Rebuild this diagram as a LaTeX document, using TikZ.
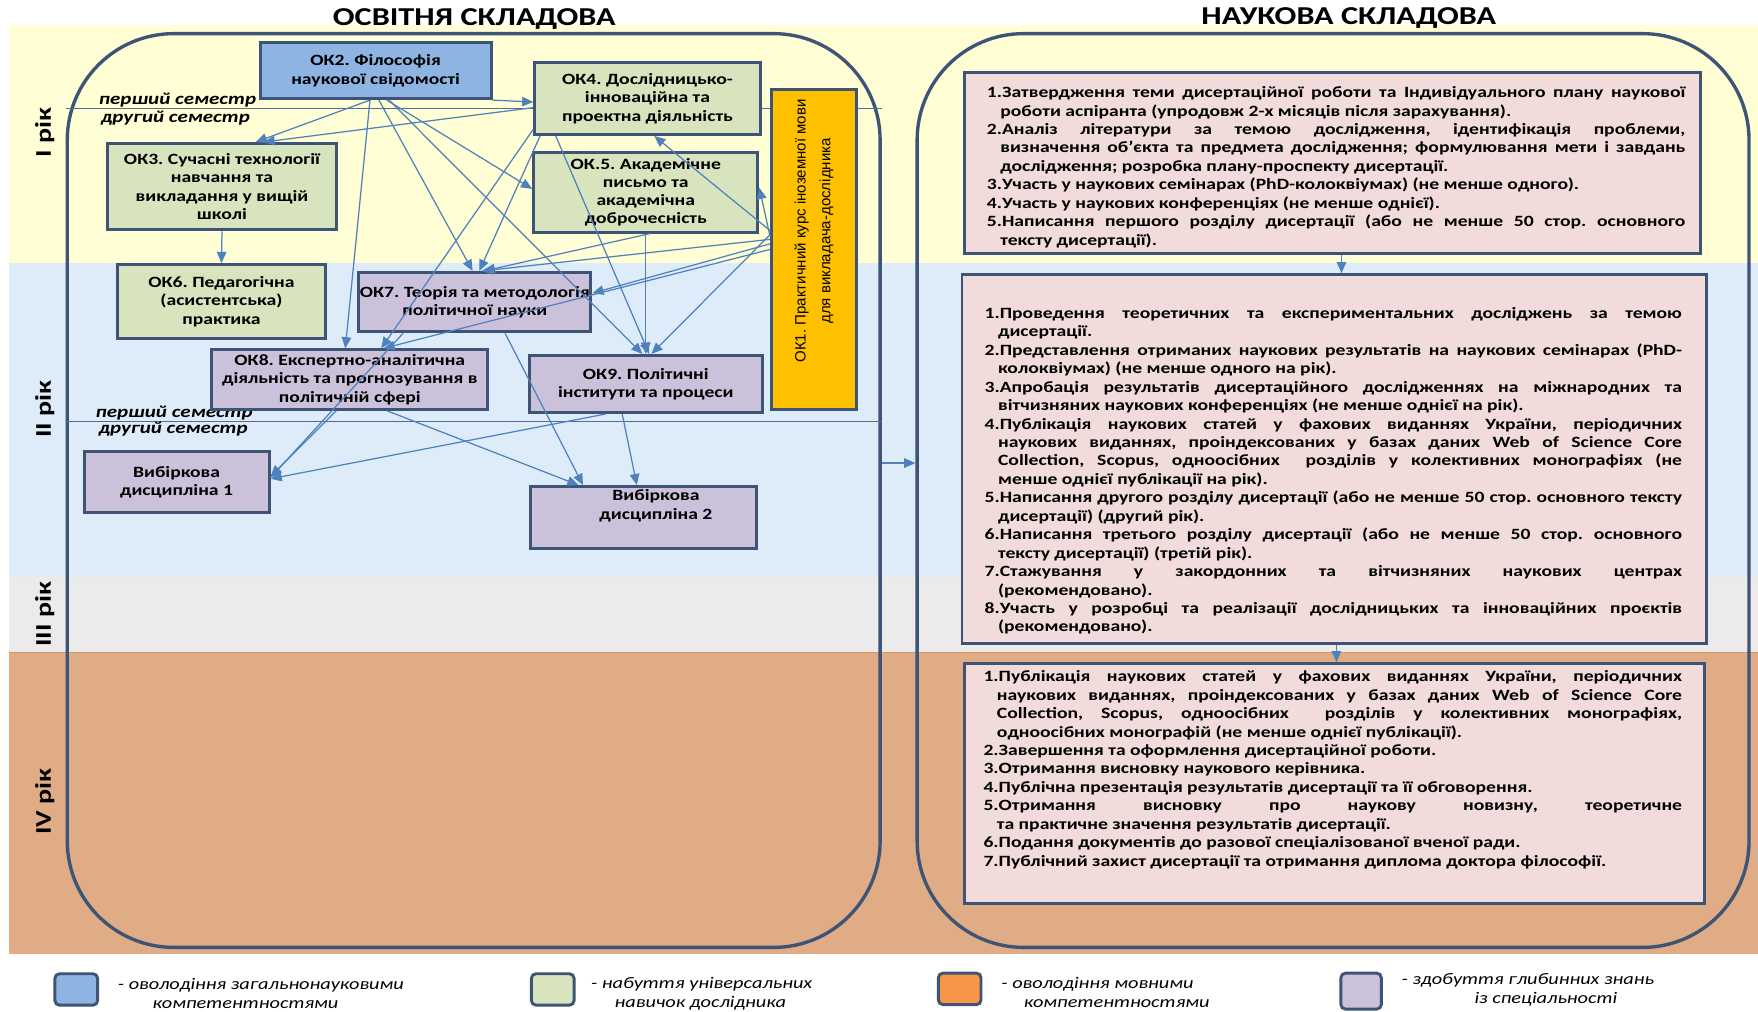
\documentclass[tikz,border=0pt]{standalone}
\usepackage{fontspec}
\setmainfont{Carlito}[FakeStretch=1.25]
\newfontfamily\arialf{Liberation Sans}
\usetikzlibrary{arrows.meta,calc}
\frenchspacing
\definecolor{bYel}{RGB}{255,254,212}
\definecolor{bBlu}{RGB}{222,236,250}
\definecolor{bGry}{RGB}{235,235,235}
\definecolor{bOrg}{RGB}{223,172,133}
\definecolor{bOrgE}{RGB}{212,150,105}
\definecolor{cBor}{RGB}{62,84,118}
\definecolor{cArr}{RGB}{79,129,189}
\definecolor{cSem}{RGB}{80,110,150}
\definecolor{fBlue}{RGB}{141,180,226}
\definecolor{fGreen}{RGB}{215,228,189}
\definecolor{fPurp}{RGB}{204,193,218}
\definecolor{fGold}{RGB}{255,192,0}
\definecolor{fPink}{RGB}{242,220,219}
\definecolor{fLOrg}{RGB}{247,150,70}
\newcommand\itm[1]{\hangindent=12pt\hangafter=1\relax #1\par}
\newcommand\rsetup{\parindent=0pt\tolerance=10000\hyphenpenalty=10000\emergencystretch=20pt\hbadness=10000\frenchspacing}
\begin{document}
\begin{tikzpicture}[x=1pt,y=-1pt,
 okbox/.style={draw=cBor, line width=2.6pt, align=center, font=\fontsize{14}{16.3}\selectfont\bfseries, inner sep=0pt},
 txt/.style={align=center, font=\fontsize{14}{16.3}\selectfont\bfseries, inner sep=0pt},
 rbox/.style={draw=cBor, line width=2.6pt, fill=fPink},
 rtxt/.style={text width=623pt, align=justify, inner sep=0pt, anchor=north west, font=\fontsize{14}{16.45}\selectfont\bfseries},
 panel/.style={draw=cBor, line width=3pt, rounded corners=95pt},
 arr/.style={draw=cArr, line width=1.1pt, -{Triangle[length=10pt,width=8.5pt]}},
 sem/.style={draw=cSem, line width=0.8pt},
 semlbl/.style={font=\fontsize{15}{16}\selectfont\bfseries\itshape, anchor=west, inner sep=0pt},
 yr/.style={font=\fontsize{20}{24}\selectfont\bfseries, rotate=90, inner sep=0pt},
 ttl/.style={font=\fontsize{23}{26}\selectfont\bfseries, inner sep=0pt},
 lgsq/.style={draw=cBor, line width=2.6pt, rounded corners=4pt, minimum width=38pt, minimum height=28pt},
 lgtxt/.style={font=\fontsize{14.5}{17}\selectfont\itshape, align=left, anchor=west, inner sep=0pt}
]
\useasboundingbox (0,0) rectangle (1568,902);
\fill[white] (0,0) rectangle (1568,902);
% bands
\fill[bYel] (8,22) rectangle (1568,235);
\fill[bBlu] (8,235) rectangle (1568,515);
\fill[bGry] (8,515) rectangle (1568,582);
\fill[bOrg] (8,582) rectangle (1568,851);
\draw[bOrgE, line width=1.2pt] (8,582) -- (1568,582);
% titles
\node[ttl] (t1) at (423,17) {ОСВІТНЯ СКЛАДОВА};
\node[ttl] (t2) at (1203,16) {НАУКОВА СКЛАДОВА};
% panels
\node[panel, minimum width=725pt, minimum height=815pt] (lp) at (422.5,437.5) {};
\node[panel, minimum width=742pt, minimum height=815pt] (rp) at (1189,437.5) {};
% semester lines
\draw[sem] (lp.west |- 0,97) -- (lp.east |- 0,97);
\draw[sem] (lp.west |- 0,376) -- (lp.east |- 0,376);
\node[semlbl] (s1) at (88,89) {перший семестр};
\node[semlbl] (s2) at (90,105) {другий семестр};
\node[semlbl] (s3) at (85,368) {перший семестр};
\node[semlbl] (s4) at (88,383) {другий семестр};
% year labels
\node[yr] (y1) at (40,118) {I рік};
\node[yr] (y2) at (40,365) {II рік};
\node[yr] (y3) at (40,548) {III рік};
\node[yr] (y4) at (40,715) {IV рік};
% left boxes
\node[okbox, fill=fBlue, minimum width=206pt, minimum height=50pt] (ok2) at (335,63) {ОК2. Філософія\\наукової свідомості};
\node[okbox, fill=fGreen, minimum width=201pt, minimum height=64pt] (ok4) at (577.5,88) {ОК4. Дослідницько-\\інноваційна та\\проектна діяльність};
\node[okbox, fill=fGreen, minimum width=204pt, minimum height=77pt] (ok3) at (198,166.5) {ОК3. Сучасні технології\\навчання та\\викладання у вищій\\школі};
\node[okbox, fill=fGreen, minimum width=200pt, minimum height=71pt] (ok5) at (576,171.5) {ОК.5. Академічне\\письмо та\\академічна\\доброчесність};
\node[okbox, fill=fGold, minimum width=76pt, minimum height=285pt] (ok1) at (726,222.5) {};
\node[rotate=90, font=\arialf\fontsize{13.4}{22}\selectfont, align=center, inner sep=0pt] (ok1t) at (726,206) {ОК1. Практичний курс іноземної мови\\для викладача-дослідника};
\node[okbox, fill=fGreen, minimum width=185pt, minimum height=66pt] (ok6) at (197.5,269) {ОК6. Педагогічна\\(асистентська)\\практика};
\node[okbox, fill=fPurp, minimum width=207pt, minimum height=53pt] (ok7) at (423.5,269.5) {ОК7. Теорія та методологія\\політичної науки};
\node[okbox, fill=fPurp, minimum width=246pt, minimum height=53pt] (ok8) at (312,338.5) {ОК8. Експертно-аналітична\\діяльність та прогнозування в\\політичній сфері};
\node[okbox, fill=fPurp, minimum width=208pt, minimum height=51pt] (ok9) at (576,342.5) {ОК9. Політичні\\інститути та процеси};
\node[okbox, fill=fPurp, minimum width=165pt, minimum height=54pt] (vib1) at (157.5,430) {Вибіркова\\дисципліна 1};
\node[okbox, fill=fPurp, minimum width=202pt, minimum height=55pt] (vib2) at (574,461.5) {};
\node[txt] (vib2t) at (585,451) {Вибіркова\\дисципліна 2};
% arrows
\draw[arr] ([xshift=-5pt]ok2.south) -- ([xshift=30pt]ok3.north);
\draw[arr] ([yshift=-8pt]ok4.west) -- ([xshift=37pt]ok3.north);
\draw[arr] (ok3.south) -- (ok6.north);
\draw[arr] (ok2.south east) -- ([yshift=-3pt]ok4.west);
\draw[arr] ([xshift=10pt]ok2.south) -- ([yshift=3pt]ok5.west);
\draw[arr] ([xshift=-5pt]ok2.south) -- ([xshift=-4pt]ok8.north);
\draw[arr] ([xshift=3pt]ok2.south) -- ([xshift=-2pt]ok7.north);
\draw[arr] ([xshift=12pt]ok2.south) -- ([xshift=-3pt]ok9.north);
\draw[arr] ([xshift=6pt]ok4.south west) -- ([xshift=4pt]ok7.north);
\draw[arr] ([yshift=6pt]ok4.south west) -- ([xshift=28pt]ok8.north);
\draw[arr] ([xshift=20pt]ok4.south west) -- ([xshift=3pt]ok9.north);
\draw[arr] ([yshift=17pt]ok1.west) -- ([xshift=6pt]ok4.south);
\draw[arr] ([yshift=12pt]ok1.west) -- ([yshift=4pt]ok5.east);
\draw[arr] ([yshift=9pt]ok1.west) -- ([xshift=6pt]ok7.north);
\draw[arr] ([yshift=5pt]ok1.west) -- ([yshift=8pt]ok7.east);
\draw[arr] (ok1.west) -- ([xshift=30pt]ok8.north);
\draw[arr] ([yshift=13pt]ok1.west) -- ([xshift=5pt]ok9.north);
\draw[arr] (ok5.south) -- (ok9.north);
\draw[arr] ([xshift=4pt]ok5.south) -- ([xshift=8pt]ok7.north);
\draw[arr] ([xshift=27pt]ok7.south) -- ([xshift=-54pt]vib2.north);
\draw[arr] ([xshift=33pt]ok8.south) -- ([xshift=-58pt]vib2.north);
\draw[arr] ([xshift=-12pt]ok8.south) -- ([yshift=5pt]vib1.east);
\draw[arr] ([xshift=-36pt]ok9.south) -- ([yshift=3pt]vib1.east);
\draw[arr] ([xshift=-21pt]ok9.south) -- ([xshift=-6pt]vib2.north);
\draw[arr] ([xshift=-64pt]ok7.south) -- ([yshift=4pt]vib1.east);
% between panels
\draw[arr] ([yshift=24.5pt]lp.east) -- ([yshift=24.5pt]rp.west);
% right boxes
\node[rbox, minimum width=657pt, minimum height=161pt] (r1) at (1188.5,145.5) {};
\node[rbox, minimum width=664pt, minimum height=329pt] (r2) at (1190,409.5) {};
\node[rbox, minimum width=660pt, minimum height=214pt] (r3) at (1190,699) {};
\draw[arr] ([xshift=8pt]r1.south) -- ([xshift=6.5pt]r2.north);
\draw[arr] ([xshift=2pt]r2.south) -- ([xshift=2pt]r3.north);
\node[rtxt] (r1t) at (880,77) {\rsetup
\itm{1.Затвердження теми дисертаційної роботи та Індивідуального плану наукової \linebreak роботи аспіранта (упродовж 2-х місяців після зарахування).}
\itm{2.Аналіз літератури за темою дослідження, ідентифікація проблеми, \linebreak визначення об’єкта та предмета дослідження; формулювання мети і завдань \linebreak дослідження; розробка плану-проспекту дисертації.}
\itm{3.Участь у наукових семінарах (PhD-колоквіумах) (не менше одного).}
\itm{4.Участь у наукових конференціях (не менше однієї).}
\itm{5.Написання першого розділу дисертації (або не менше 50 стор. основного \linebreak тексту дисертації).}};
\node[rtxt, text width=622pt] (r2t) at (878,274) {\rsetup
\itm{1.Проведення теоретичних та експериментальних досліджень за темою \linebreak дисертації.}
\itm{2.Представлення отриманих наукових результатів на наукових семінарах (PhD-\linebreak колоквіумах) (не менше одного на рік).}
\itm{3.Апробація результатів дисертаційного дослідженнях на міжнародних та \linebreak вітчизняних наукових конференціях (не менше однієї на рік).}
\itm{4.Публікація наукових статей у фахових виданнях України, періодичних \linebreak наукових виданнях, проіндексованих у базах даних Web of Science Core \linebreak Collection, Scopus, одноосібних\ \ розділів у колективних монографіях (не \linebreak менше однієї публікації на рік).}
\itm{5.Написання другого розділу дисертації (або не менше 50 стор. основного тексту \linebreak дисертації) (другий рік).}
\itm{6.Написання третього розділу дисертації (або не менше 50 стор. основного \linebreak тексту дисертації) (третій рік).}
\itm{7.Стажування у закордонних та вітчизняних наукових центрах \linebreak (рекомендовано).}
\itm{8.Участь у розробці та реалізації дослідницьких та інноваційних проєктів \linebreak (рекомендовано).}};
\node[rtxt] (r3t) at (877,598) {\rsetup
\itm{1.Публікація наукових статей у фахових виданнях України, періодичних \linebreak наукових виданнях, проіндексованих у базах даних Web of Science Core \linebreak Collection, Scopus, одноосібних\ \ розділів у колективних монографіях, \linebreak одноосібних монографій (не менше однієї публікації).}
\itm{2.Завершення та оформлення дисертаційної роботи.}
\itm{3.Отримання висновку наукового керівника.}
\itm{4.Публічна презентація результатів дисертації та її обговорення.}
\itm{5.Отримання висновку про наукову новизну, теоретичне \linebreak та практичне значення результатів дисертації.}
\itm{6.Подання документів до разової спеціалізованої вченої ради.}
\itm{7.Публічний захист дисертації та отримання диплома доктора філософії.}};
% legend
\node[lgsq, fill=fBlue] (lg1) at (68,882.5) {};
\node[lgsq, fill=fGreen] (lg2) at (493,882.5) {};
\node[lgsq, fill=fLOrg] (lg3) at (856,882) {};
\node[lgsq, fill=fPurp, minimum width=36pt, minimum height=32pt] (lg4) at (1214,884) {};
\node[lgtxt] (lt1) at (105,886) {- оволодіння загальнонауковими\\\hspace*{31pt}компетентностями};
\node[lgtxt] (lt2) at (527,886) {- набуття універсальних\\\hspace*{21pt}навичок дослідника};
\node[lgtxt] (lt3) at (893,885) {- оволодіння мовними\\\hspace*{20pt}компетентностями};
\node[lgtxt] (lt4) at (1250,883) {- здобуття глибинних знань\\\hspace*{65pt}із спеціальності};
\end{tikzpicture}
\end{document}
